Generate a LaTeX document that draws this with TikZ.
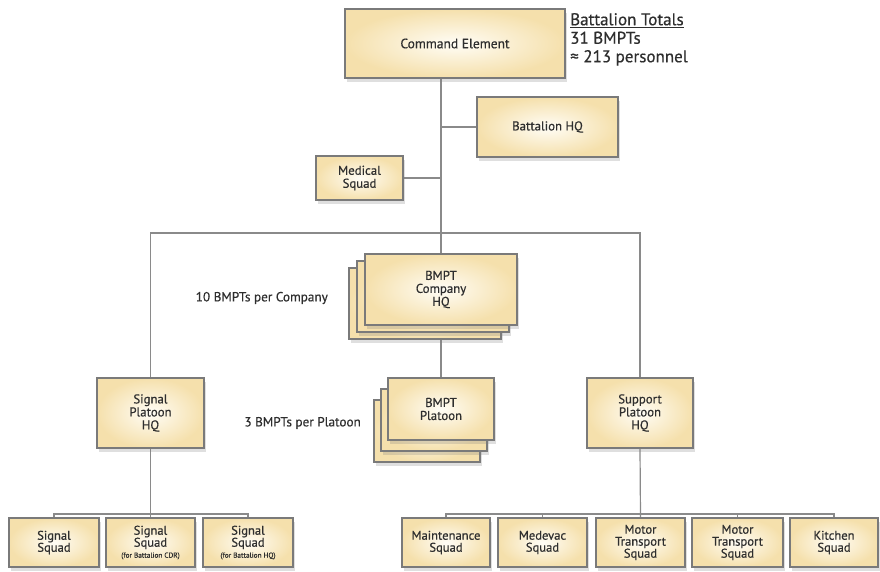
\documentclass[tikz,border=0pt]{standalone}
\usepackage{fontspec}
\setmainfont{PT Sans}[FakeBold=0.5]
\usetikzlibrary{shadows}
\definecolor{boxfill}{HTML}{F5E0AC}
\definecolor{boxin}{HTML}{FFFDF6}
\definecolor{boxline}{HTML}{7A7A7A}
\definecolor{linkline}{HTML}{8A8A8A}
\definecolor{txt}{HTML}{2E2E2E}
\pgfdeclarelayer{bg}
\pgfdeclarelayer{links}
\pgfsetlayers{bg,links,main}
\tikzset{
  box/.style={draw=boxline, line width=1.3pt, inner sep=0pt, align=center,
    shading=radial, inner color=boxin, outer color=boxfill,
    text=txt, font=\fontsize{12.8}{13}\selectfont,
    drop shadow={opacity=0.25, shadow xshift=2pt, shadow yshift=-4pt}},
  smallbox/.style={box, minimum height=49pt, font=\fontsize{12.6}{12}\selectfont},
  link/.style={draw=linkline, line width=1.2pt},
  note/.style={text=txt, font=\fontsize{13.2}{14}\selectfont, inner sep=0pt}
}
\begin{document}
\begin{tikzpicture}[x=1pt,y=-1pt]
\useasboundingbox (0,0) rectangle (880,571);
\begin{pgfonlayer}{bg}
\fill[white] (0,0) rectangle (880,571);
\end{pgfonlayer}

% top level
\node[box, minimum width=220pt, minimum height=69pt, font=\fontsize{13.5}{14}\selectfont] (cmd) at (455,43.5) {Command Element};
\node[box, minimum width=141pt, minimum height=60pt] (bhq) at (547.5,127) {Battalion HQ};
\node[box, minimum width=87pt, minimum height=44pt] (med) at (359.5,178) {Medical\\Squad};

% company stack
\node[box, minimum width=152pt, minimum height=71pt] (compc) at (425,303.5) {};
\node[box, minimum width=152pt, minimum height=71pt] (compb) at (433,296.5) {};
\node[box, minimum width=152pt, minimum height=71pt] (comp) at (441,289.5) {BMPT\\Company\\HQ};

% platoon stack
\node[box, minimum width=106pt, minimum height=62pt] (platc) at (427,431) {};
\node[box, minimum width=106pt, minimum height=62pt] (platb) at (434,420) {};
\node[box, minimum width=106pt, minimum height=62pt] (plat) at (441,409) {BMPT\\Platoon};

% platoon HQs
\node[box, minimum width=107pt, minimum height=70pt] (sig) at (150.5,413) {Signal\\Platoon\\HQ};
\node[box, minimum width=106pt, minimum height=70pt] (sup) at (640,413) {Support\\Platoon\\HQ};

% signal squads
\node[smallbox, minimum width=90pt] (s1) at (54,542.5) {Signal\\Squad};
\node[smallbox, minimum width=89pt] (s2) at (150.5,542.5) {Signal\\Squad\\[-1pt]{\fontsize{7.3}{8}\selectfont (for Battalion CDR)}};
\node[smallbox, minimum width=90pt] (s3) at (248,542.5) {Signal\\Squad\\[-1pt]{\fontsize{7.3}{8}\selectfont (for Battalion HQ)}};

% support squads
\node[smallbox, minimum width=88pt] (m1) at (446,542.5) {Maintenance\\Squad};
\node[smallbox, minimum width=89pt] (m2) at (542.5,542.5) {Medevac\\Squad};
\node[smallbox, minimum width=89pt] (m3) at (640.5,542.5) {Motor\\Transport\\Squad};
\node[smallbox, minimum width=91pt] (m4) at (737.5,542.5) {Motor\\Transport\\Squad};
\node[smallbox, minimum width=88pt] (m5) at (834,542.5) {Kitchen\\Squad};

% notes
\node[note, anchor=east] (n1) at (328,298) {10 BMPTs per Company};
\node[note, anchor=east] (n2) at (361,423) {3 BMPTs per Platoon};
\node[text=txt, inner sep=0pt, anchor=north west, align=left, font=\fontsize{17}{18.5}\selectfont] (tot) at (570,13)
  {\underline{Battalion Totals}\\31 BMPTs\\≈ 213 personnel};

\coordinate (bar) at (441,233);
\coordinate (sbar) at (150,514);

\begin{pgfonlayer}{links}
\draw[link] (cmd.south -| comp.north) -- (comp.north);
\draw[link] (bhq.west) -- (bhq.west -| comp.north);
\draw[link] (med.east) -- (med.east -| comp.north);
\draw[link] (sig.north) -- (sig.north |- bar) -- (sup.north |- bar) -- (sup.north);
\draw[link] (comp.south) -- (plat.north);
\draw[link] (sig.south) -- (s2.north);
\draw[link] (s1.north) -- (s1.north |- sbar) -- (s3.north |- sbar) -- (s3.north);
\draw[link] (sup.south) -- (m3.north);
\draw[link] (m1.north) -- (m1.north |- sbar) -- (m5.north |- sbar) -- (m5.north);
\draw[link] (m2.north) -- (m2.north |- sbar);
\draw[link] (m4.north) -- (m4.north |- sbar);
\end{pgfonlayer}
\end{tikzpicture}
\end{document}
